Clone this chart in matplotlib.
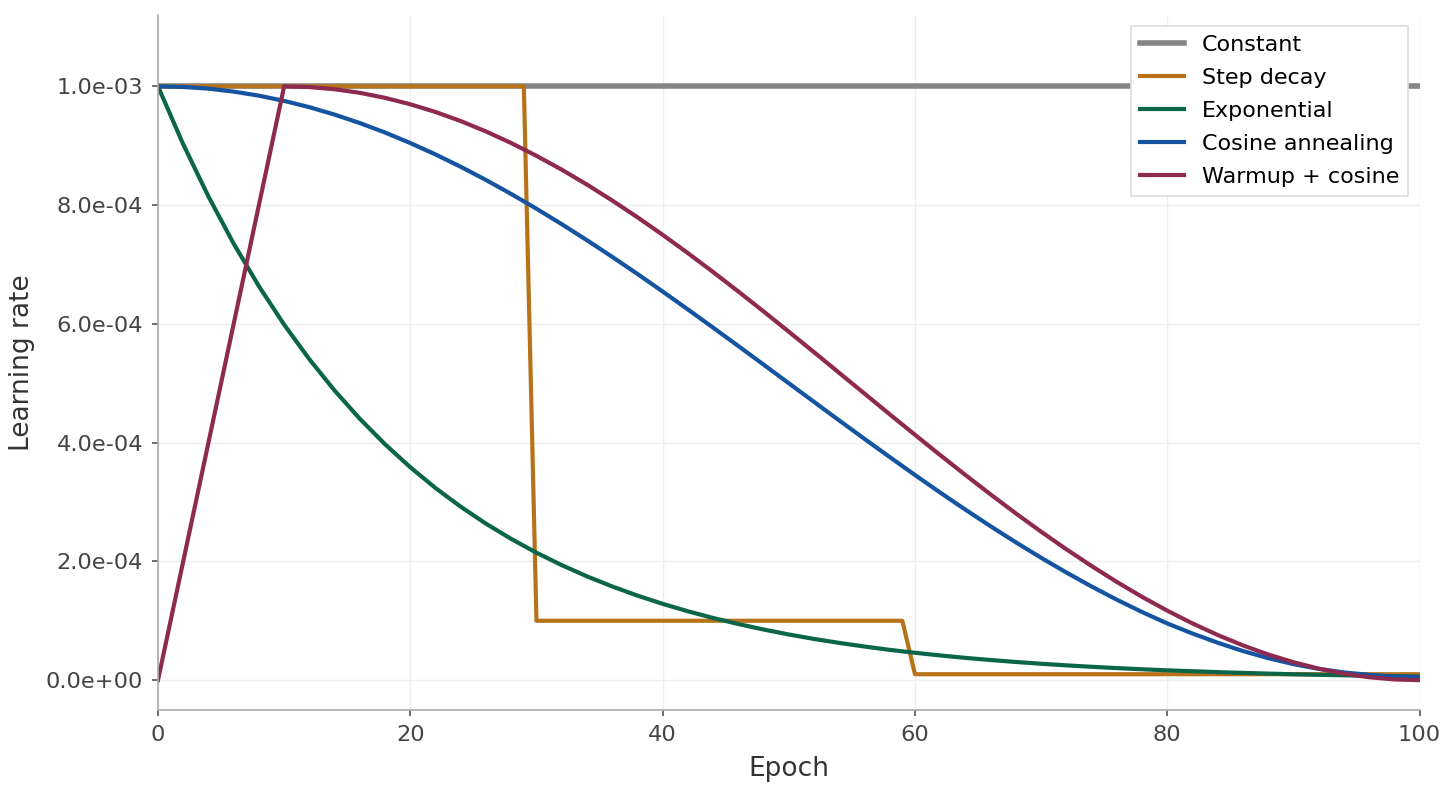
import matplotlib.pyplot as plt
from matplotlib.ticker import FormatStrFormatter

# values, in units of 1e-4
const_epochs = [0, 100]
const_lr = [10.0, 10.0]

step_epochs = [0, 29, 30, 59, 60, 100]
step_lr = [10.0, 10.0, 1.0, 1.0, 0.1, 0.1]

exp_epochs = list(range(0, 81, 2)) + [85, 90, 95, 100]
exp_lr = [10.0, 9.025, 8.145, 7.351, 6.634, 5.987, 5.404, 4.877, 4.401, 3.972,
          3.585, 3.235, 2.920, 2.635, 2.378, 2.146, 1.937, 1.748, 1.578, 1.424,
          1.285, 1.160, 1.047, 0.945, 0.853, 0.769, 0.694, 0.627, 0.566, 0.510,
          0.461, 0.416, 0.375, 0.339, 0.306, 0.276, 0.249, 0.225, 0.203, 0.183,
          0.165, 0.128, 0.099, 0.077, 0.059]

cos_epochs = list(range(0, 101, 2))
cos_lr = [10.0, 9.990, 9.961, 9.911, 9.843, 9.755, 9.649, 9.524, 9.382, 9.222,
          9.045, 8.853, 8.645, 8.423, 8.187, 7.939, 7.679, 7.409, 7.129, 6.841,
          6.545, 6.243, 5.937, 5.627, 5.314, 5.000, 4.686, 4.373, 4.063, 3.757,
          3.455, 3.159, 2.871, 2.591, 2.321, 2.061, 1.813, 1.577, 1.355, 1.147,
          0.955, 0.785, 0.630, 0.490, 0.370, 0.270, 0.190, 0.130, 0.090, 0.060,
          0.050]

warm_epochs = [0] + list(range(10, 101, 2))
warm_lr = [0.0, 10.0, 9.988, 9.951, 9.891, 9.806, 9.698, 9.568, 9.415, 9.240,
           9.045, 8.830, 8.597, 8.346, 8.078, 7.796, 7.500, 7.192, 6.873, 6.545,
           6.210, 5.868, 5.523, 5.174, 4.826, 4.477, 4.132, 3.790, 3.455, 3.127,
           2.808, 2.500, 2.204, 1.922, 1.654, 1.403, 1.170, 0.955, 0.760, 0.585,
           0.432, 0.302, 0.194, 0.109, 0.049, 0.012, 0.0]

scale = 1e-4

fig = plt.figure(figsize=(7.28, 3.97), dpi=200)
ax = fig.add_axes([0.1085, 0.106, 0.8665, 0.875])

ax.plot(const_epochs, [v * scale for v in const_lr], color='#858684', lw=2.0, label='Constant')
ax.plot(step_epochs, [v * scale for v in step_lr], color='#B8731A', lw=1.5, label='Step decay')
ax.plot(exp_epochs, [v * scale for v in exp_lr], color='#0B6548', lw=1.5, label='Exponential')
ax.plot(cos_epochs, [v * scale for v in cos_lr], color='#1554A0', lw=1.5, label='Cosine annealing')
ax.plot(warm_epochs, [v * scale for v in warm_lr], color='#8E2A50', lw=1.5, label='Warmup + cosine')

ax.set_xlim(0, 100)
ax.set_ylim(-0.05e-3, 1.12e-3)
ax.set_yticks([0, 2e-4, 4e-4, 6e-4, 8e-4, 1e-3])
ax.yaxis.set_major_formatter(FormatStrFormatter('%.1e'))

ax.grid(True, color='#eeeeee', lw=0.5)
ax.set_axisbelow(True)
for side in ['top', 'right']:
    ax.spines[side].set_visible(False)
for side in ['left', 'bottom']:
    ax.spines[side].set_color('#aaaaaa')
    ax.spines[side].set_linewidth(0.6)
ax.tick_params(labelsize=8.1, colors='#444444', length=2.3, width=0.6, pad=3)
ax.tick_params(color='#555555')

ax.set_xlabel('Epoch', fontsize=9.5, color='#333333')
ax.set_ylabel('Learning rate', fontsize=9.5, color='#333333')

leg = ax.legend(loc='upper right', fontsize=8, fancybox=False, framealpha=1,
                labelspacing=0.58)
leg.get_frame().set_edgecolor('#dddddd')
leg.get_frame().set_linewidth(0.6)

fig.savefig('out.png', dpi=200)
